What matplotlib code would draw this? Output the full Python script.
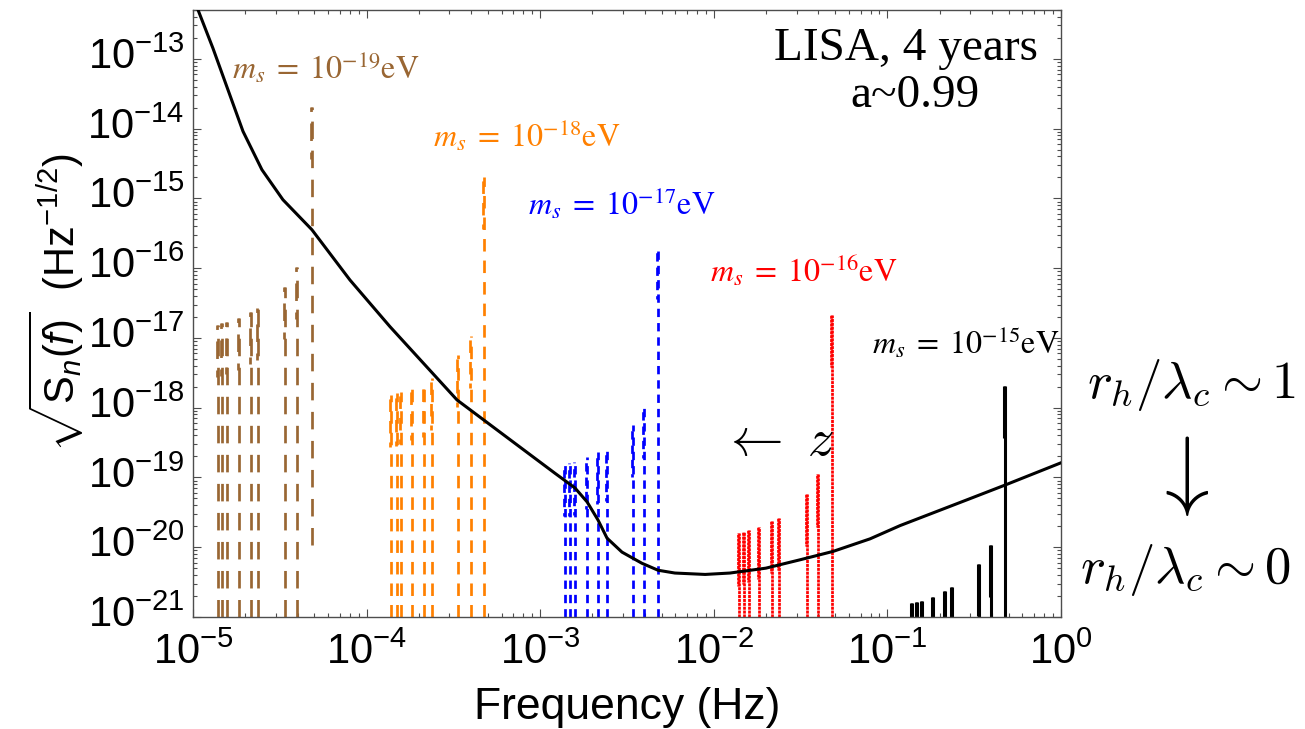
import numpy as np
import matplotlib
matplotlib.use("Agg")
import matplotlib.pyplot as plt
import matplotlib.transforms as mtransforms
from matplotlib import font_manager
from matplotlib.ticker import FixedLocator, LogLocator, FuncFormatter, NullFormatter

# ---- data ----
# LISA sensitivity curve (log10 of frequency in Hz, log10 of sqrt(Sn))
lisa_logf = [-5.00, -4.971, -4.885, -4.712, -4.603, -4.482, -4.315, -4.096,
             -3.865, -3.479, -3.232, -2.915, -2.80, -2.73, -2.667, -2.615,
             -2.529, -2.414, -2.321, -2.224, -2.05, -1.907, -1.70, -1.503,
             -1.313, -1.10, -0.927, -0.541, -0.323, 0.0]
lisa_logs = [-12.10, -12.30, -12.85, -14.04, -14.59, -15.02, -15.45, -16.17,
             -16.84, -17.89, -18.35, -18.94, -19.15, -19.35, -19.61, -19.87,
             -20.07, -20.23, -20.33, -20.37, -20.39, -20.37, -20.30, -20.18,
             -20.06, -19.88, -19.69, -19.32, -19.11, -18.79]

# m_s = 1e-19 eV
freq_19 = [1.388e-5, 1.463e-5, 1.576e-5, 1.841e-5, 2.158e-5, 2.377e-5, 3.388e-5, 3.957e-5, 4.828e-5]
top_19 = [1.53e-17, 1.62e-17, 1.68e-17, 1.94e-17, 2.36e-17, 2.69e-17, 5.38e-17, 1.04e-16, 2.05e-14]
bot_19 = [1e-21, 1e-21, 1e-21, 1e-21, 1e-21, 1e-21, 1e-21, 1e-21, 1.08e-20]

# m_s = 1e-18 eV
freq_18 = [1.382e-4, 1.491e-4, 1.585e-4, 1.834e-4, 2.141e-4, 2.389e-4, 3.374e-4, 3.977e-4, 4.764e-4]
top_18 = [1.52e-18, 1.60e-18, 1.68e-18, 1.92e-18, 2.12e-18, 2.67e-18, 5.71e-18, 1.07e-17, 2.03e-15]
bot_18 = [1e-21] * 9

# m_s = 1e-17 eV
freq_17 = [1.390e-3, 1.485e-3, 1.587e-3, 1.853e-3, 2.162e-3, 2.416e-3, 3.437e-3, 3.977e-3, 4.790e-3]
top_17 = [1.55e-19, 1.60e-19, 1.65e-19, 1.99e-19, 2.34e-19, 2.56e-19, 5.66e-19, 1.06e-18, 2.04e-16]
bot_17 = [1e-21] * 9

# m_s = 1e-16 eV
freq_16 = [1.402e-2, 1.493e-2, 1.595e-2, 1.829e-2, 2.173e-2, 2.384e-2, 3.428e-2, 3.999e-2, 4.815e-2]
top_16 = [1.58e-20, 1.66e-20, 1.77e-20, 1.97e-20, 2.40e-20, 2.65e-20, 5.80e-20, 1.11e-19, 2.14e-17]
bot_16 = [1e-21] * 9

# m_s = 1e-15 eV
freq_15 = [0.1385, 0.1475, 0.1576, 0.1823, 0.2147, 0.2364, 0.3383, 0.3936, 0.4757]
top_15 = [1.59e-21, 1.64e-21, 1.71e-21, 1.96e-21, 2.38e-21, 2.67e-21, 5.75e-21, 1.08e-20, 2.05e-18]
bot_15 = [1e-21] * 9

mass_exp = [-19, -18, -17, -16, -15]
colors = ['#996633', '#FF8000', '#0000FF', '#FF0000', '#000000']
# dash (on, off) in points, None = solid
dashes = [(12.6, 8.3), (9.0, 6.5), (6.0, 4.3), (2.2, 0.6), None]
# label position (axes fraction, left / centre)
label_pos = [(0.045, 0.904), (0.2765, 0.792), (0.386, 0.680), (0.5956, 0.570), (0.782, 0.451)]

xticks = [1e-5, 1e-4, 1e-3, 1e-2, 1e-1, 1e0]
yticks = [1e-21, 1e-20, 1e-19, 1e-18, 1e-17, 1e-16, 1e-15, 1e-14, 1e-13]

groups = [(freq_19, top_19, bot_19), (freq_18, top_18, bot_18), (freq_17, top_17, bot_17),
          (freq_16, top_16, bot_16), (freq_15, top_15, bot_15)]

# ---- fonts ----
names = {f.name for f in font_manager.fontManager.ttflist}
sans = 'Liberation Sans' if 'Liberation Sans' in names else 'DejaVu Sans'
serif = 'Liberation Serif' if 'Liberation Serif' in names else 'DejaVu Serif'

plt.rcParams['font.family'] = [sans, 'DejaVu Sans']
plt.rcParams['mathtext.fontset'] = 'custom'
plt.rcParams['mathtext.rm'] = sans
plt.rcParams['mathtext.it'] = sans + ':italic'
plt.rcParams['mathtext.bf'] = sans + ':bold'
plt.rcParams['lines.scale_dashes'] = False

fig = plt.figure(figsize=(13.05, 7.29), dpi=100)
ax = fig.add_axes([193 / 1305, 1 - 617 / 729, 868 / 1305, 607 / 729])

ax.set_xscale('log')
ax.set_yscale('log')
ax.set_xlim(1e-5, 1)
ax.set_ylim(1e-21, 5e-13)

for (freqs, tops, bots), col, dsh in zip(groups, colors, dashes):
    lw = 2.2 if dsh is None else 1.95
    for f, top, bot in zip(freqs, tops, bots):
        ls = '-' if dsh is None else (0, dsh)
        ax.plot([f, f], [bot, top], color=col, lw=lw, ls=ls, solid_capstyle='butt')
        # upper part of each line is doubled in the original
        lo = max(bot, top / 10 ** 0.75)
        ls2 = '-' if dsh is None else (dsh[0] * 0.6, dsh)
        ax.plot([f * 0.985, f * 0.985], [lo, top], color=col, lw=lw, ls=ls2,
                solid_capstyle='butt')

ax.plot(10 ** np.array(lisa_logf), 10 ** np.array(lisa_logs), color='black', lw=2.2, zorder=5)

# ticks
fmt = FuncFormatter(lambda v, p: r'$10^{%d}$' % int(round(np.log10(v))))
ax.xaxis.set_major_locator(FixedLocator(xticks))
ax.yaxis.set_major_locator(FixedLocator(yticks))
for axis in (ax.xaxis, ax.yaxis):
    axis.set_minor_locator(LogLocator(base=10, subs=np.arange(2, 10), numticks=30))
    axis.set_major_formatter(fmt)
    axis.set_minor_formatter(NullFormatter())
ax.tick_params(which='both', direction='in', top=True, right=True, color='#4d4d4d', width=0.8)
ax.tick_params(which='major', length=6, labelsize=30)
ax.tick_params(axis='x', which='major', pad=11)
ax.tick_params(axis='y', which='major', pad=6)
ax.tick_params(which='minor', length=3)
for sp in ax.spines.values():
    sp.set_color('#4d4d4d')
    sp.set_linewidth(1.0)

# y labels sit a little above their ticks in the original
shift_up = mtransforms.ScaledTranslation(0, 4 / 72, fig.dpi_scale_trans)
for lab in ax.yaxis.get_majorticklabels():
    lab.set_transform(lab.get_transform() + shift_up)

# axis labels
fig.text(627 / 1305, 1 - 707 / 729, 'Frequency (Hz)', ha='center', va='center', fontsize=32)
fig.text(56 / 1305, 1 - 303 / 729, r'$\sqrt{\mathrm{S}_n(f)}$  (Hz$^{-1/2}$)',
         rotation=90, ha='center', va='center', fontsize=30)

# mass labels
for e, col, (xp, yp) in zip(mass_exp, colors, label_pos):
    ax.text(xp, yp, r'$m_s\;=\;10^{%d}\mathrm{eV}$' % e, transform=ax.transAxes,
            color=col, fontsize=23, ha='left', va='center', math_fontfamily='stix')

ax.text(0.8215, 0.9176, 'LISA, 4 years', transform=ax.transAxes, ha='center',
        va='baseline', fontsize=34, family=serif)
ax.text(0.832, 0.840, 'a~0.99', transform=ax.transAxes, ha='center',
        va='baseline', fontsize=34, family=serif)

ax.text(0.674, 0.29, r'$\leftarrow\ z$', transform=ax.transAxes, ha='center',
        va='center', fontsize=38, math_fontfamily='cm')

fig.text(1191 / 1305, 1 - 385 / 729, r'$r_h/\lambda_c \sim 1$', ha='center', va='center',
         fontsize=38, math_fontfamily='cm')
fig.text(1179 / 1305, 1 - 476 / 729, r'$\downarrow$', ha='center', va='center',
         fontsize=64, math_fontfamily='cm')
fig.text(1185 / 1305, 1 - 570 / 729, r'$r_h/\lambda_c \sim 0$', ha='center', va='center',
         fontsize=38, math_fontfamily='cm')

fig.savefig('out.png', dpi=100)
